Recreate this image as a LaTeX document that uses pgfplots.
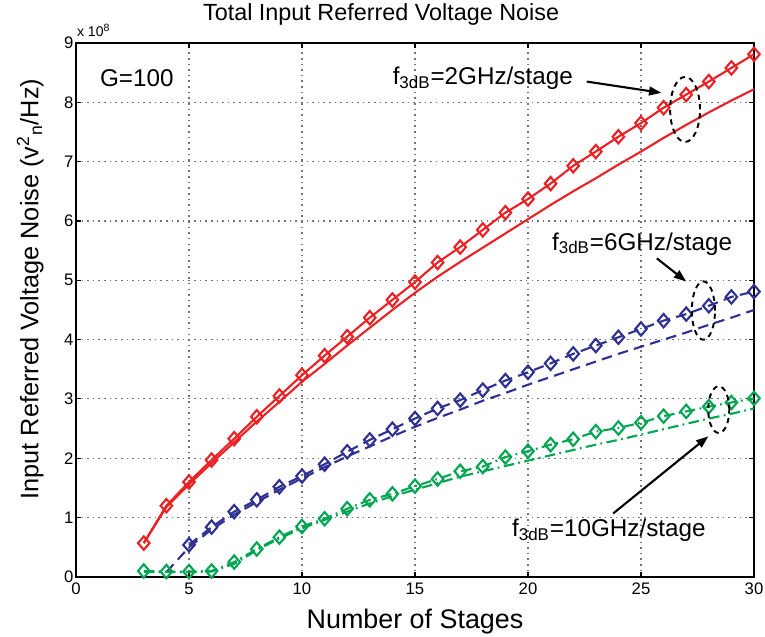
\documentclass[border=0pt]{standalone}
\usepackage{pgfplots}
\pgfplotsset{compat=1.18}
\usepackage{fontspec}
\setmainfont{Liberation Sans}
\usetikzlibrary{arrows.meta}

\definecolor{mred}{RGB}{237,32,36}
\definecolor{mblue}{RGB}{46,49,146}
\definecolor{mgreen}{RGB}{0,166,81}

% values in units of 1e8
\pgfplotstableread{
x y
3 0.57
4 1.20
5 1.60
6 1.97
7 2.33
8 2.70
9 3.05
10 3.40
11 3.73
12 4.05
13 4.37
14 4.67
15 4.97
16 5.30
17 5.56
18 5.85
19 6.14
20 6.37
21 6.63
22 6.93
23 7.17
24 7.42
25 7.65
26 7.91
27 8.13
28 8.35
29 8.58
30 8.81
}\redmark
\pgfplotstableread{
x y
3 0.57
4 1.18
5 1.56
6 1.92
7 2.27
8 2.62
9 2.95
10 3.29
11 3.59
12 3.90
13 4.20
14 4.50
15 4.79
16 5.06
17 5.31
18 5.55
19 5.79
20 6.03
21 6.27
22 6.50
23 6.72
24 6.95
25 7.17
26 7.40
27 7.62
28 7.83
29 8.03
30 8.22
}\redline
\pgfplotstableread{
x y
5 0.54
6 0.84
7 1.10
8 1.30
9 1.52
10 1.70
11 1.90
12 2.11
13 2.31
14 2.49
15 2.67
16 2.84
17 2.98
18 3.15
19 3.31
20 3.45
21 3.60
22 3.76
23 3.90
24 4.04
25 4.18
26 4.32
27 4.43
28 4.57
29 4.72
30 4.81
}\bluemark
\pgfplotstableread{
x y
4 0.08
5 0.50
6 0.80
7 1.05
8 1.26
9 1.47
10 1.66
11 1.85
12 2.03
13 2.20
14 2.37
15 2.53
16 2.68
17 2.82
18 2.97
19 3.10
20 3.24
21 3.37
22 3.50
23 3.63
24 3.76
25 3.88
26 4.00
27 4.12
28 4.25
29 4.37
30 4.50
}\blueline
\pgfplotstableread{
x y
3 0.10
4 0.09
5 0.09
6 0.10
7 0.25
8 0.47
9 0.67
10 0.85
11 0.98
12 1.15
13 1.30
14 1.40
15 1.53
16 1.65
17 1.78
18 1.86
19 2.02
20 2.12
21 2.23
22 2.32
23 2.45
24 2.51
25 2.60
26 2.71
27 2.79
28 2.87
29 2.94
30 3.01
}\greenmark
\pgfplotstableread{
x y
3 0.08
4 0.08
5 0.08
6 0.09
7 0.22
8 0.45
9 0.65
10 0.82
11 0.96
12 1.10
13 1.24
14 1.36
15 1.47
16 1.58
17 1.69
18 1.78
19 1.87
20 1.96
21 2.05
22 2.14
23 2.23
24 2.31
25 2.40
26 2.49
27 2.58
28 2.67
29 2.75
30 2.84
}\greenline

\begin{document}
\begin{tikzpicture}
\begin{axis}[
  name=ax,
  width=385.8pt, height=303.8pt, scale only axis,
  clip mode=individual,
  xmin=0, xmax=30, ymin=0, ymax=9,
  xtick={0,5,...,30}, ytick={0,1,...,9},
  major tick length=3pt,
  tick style={black, line width=0.6pt},
  axis line style={line width=1.1pt},
  grid=major,
  grid style={solid, black!55, line width=0.6pt, dash pattern=on 0.9pt off 2.3pt},
  /pgf/number format/assume math mode=true,
  tick label style={font=\fontsize{9.5}{11}\selectfont},
  yticklabel style={inner xsep=1.2pt},
  title={Total Input Referred Voltage Noise},
  title style={font=\fontsize{13.3}{15}\selectfont, at={(0.45,1)}, anchor=base, yshift=6.8pt},
  xlabel={Number of Stages},
  ylabel={Input Referred Voltage Noise (v\textsuperscript{2}\textsubscript{n}/Hz)},
  xlabel style={font=\fontsize{15.3}{17}\selectfont, at={(rel axis cs:0.5,0)}, anchor=base, yshift=-29.6pt},
  ylabel style={font=\fontsize{14.4}{17}\selectfont, at={([xshift=-26pt]rel axis cs:0,0.539)}, anchor=center, rotate=0},
  mark options={solid, line width=1.2pt, xscale=1.15},
]
\addplot[mred, line width=1.2pt] table {\redline};
\addplot[mred, line width=1.2pt, mark=diamond, mark size=3.8pt] table {\redmark};
\addplot[mblue, line width=1.2pt, dash pattern=on 6pt off 3.6pt] table {\blueline};
\addplot[mblue, line width=1.2pt, dash pattern=on 6pt off 3.6pt, mark=diamond, mark size=3.8pt] table {\bluemark};
\addplot[mgreen, line width=1.2pt, dash pattern=on 6pt off 2.5pt on 1pt off 2.5pt] table {\greenline};
\addplot[mgreen, line width=1.2pt, dash pattern=on 6pt off 2.5pt on 1pt off 2.5pt, mark=diamond, mark size=3.8pt] table {\greenmark};

\node[anchor=base west, inner sep=0pt, font=\fontsize{8}{9}\selectfont] at (rel axis cs:0,1) [xshift=0.4pt, yshift=3.6pt] {x 10\textsuperscript{8}};

\node[anchor=west, inner sep=0pt, font=\fontsize{13.8}{15}\selectfont] at (axis cs:1.05,8.41) {G=100};
\node[anchor=base west, inner sep=0pt, font=\fontsize{13.8}{15}\selectfont] at (axis cs:14.0,8.30) {f\textsubscript{3dB}=2GHz/stage};
\node[anchor=base west, inner sep=0pt, font=\fontsize{13.8}{15}\selectfont] at (axis cs:21.05,5.51) {f\textsubscript{3dB}=6GHz/stage};
\node[anchor=base west, inner sep=0pt, font=\fontsize{13.8}{15}\selectfont] at (axis cs:19.28,0.68) {f\textsubscript{3dB}=10GHz/stage};

\draw[black, line width=1.2pt, -{Triangle[length=7pt, width=5pt]}] (axis cs:22.6,8.35) -- (axis cs:25.9,8.16);
\draw[black, line width=1.2pt, -{Triangle[length=7pt, width=5pt]}] (axis cs:25.7,5.37) -- (axis cs:27.0,4.98);
\draw[black, line width=1.2pt, -{Triangle[length=7pt, width=5pt]}] (axis cs:23.77,1.07) -- (axis cs:27.98,2.37);

\draw[black, line width=1.1pt, dash pattern=on 3pt off 2.5pt] (axis cs:26.95,7.88) ellipse [x radius=8.5pt, y radius=18.5pt];
\draw[black, line width=1.1pt, dash pattern=on 3pt off 2.5pt] (axis cs:27.76,4.49) ellipse [x radius=6.6pt, y radius=16.6pt];
\draw[black, line width=1.1pt, dash pattern=on 3pt off 2.5pt] (axis cs:28.44,2.82) ellipse [x radius=6pt, y radius=13.3pt];
\end{axis}
\pgfresetboundingbox
\path ([xshift=-43.24pt, yshift=-34.14pt]ax.south west) rectangle ([xshift=6.26pt, yshift=24.47pt]ax.north east);
\end{tikzpicture}
\end{document}
